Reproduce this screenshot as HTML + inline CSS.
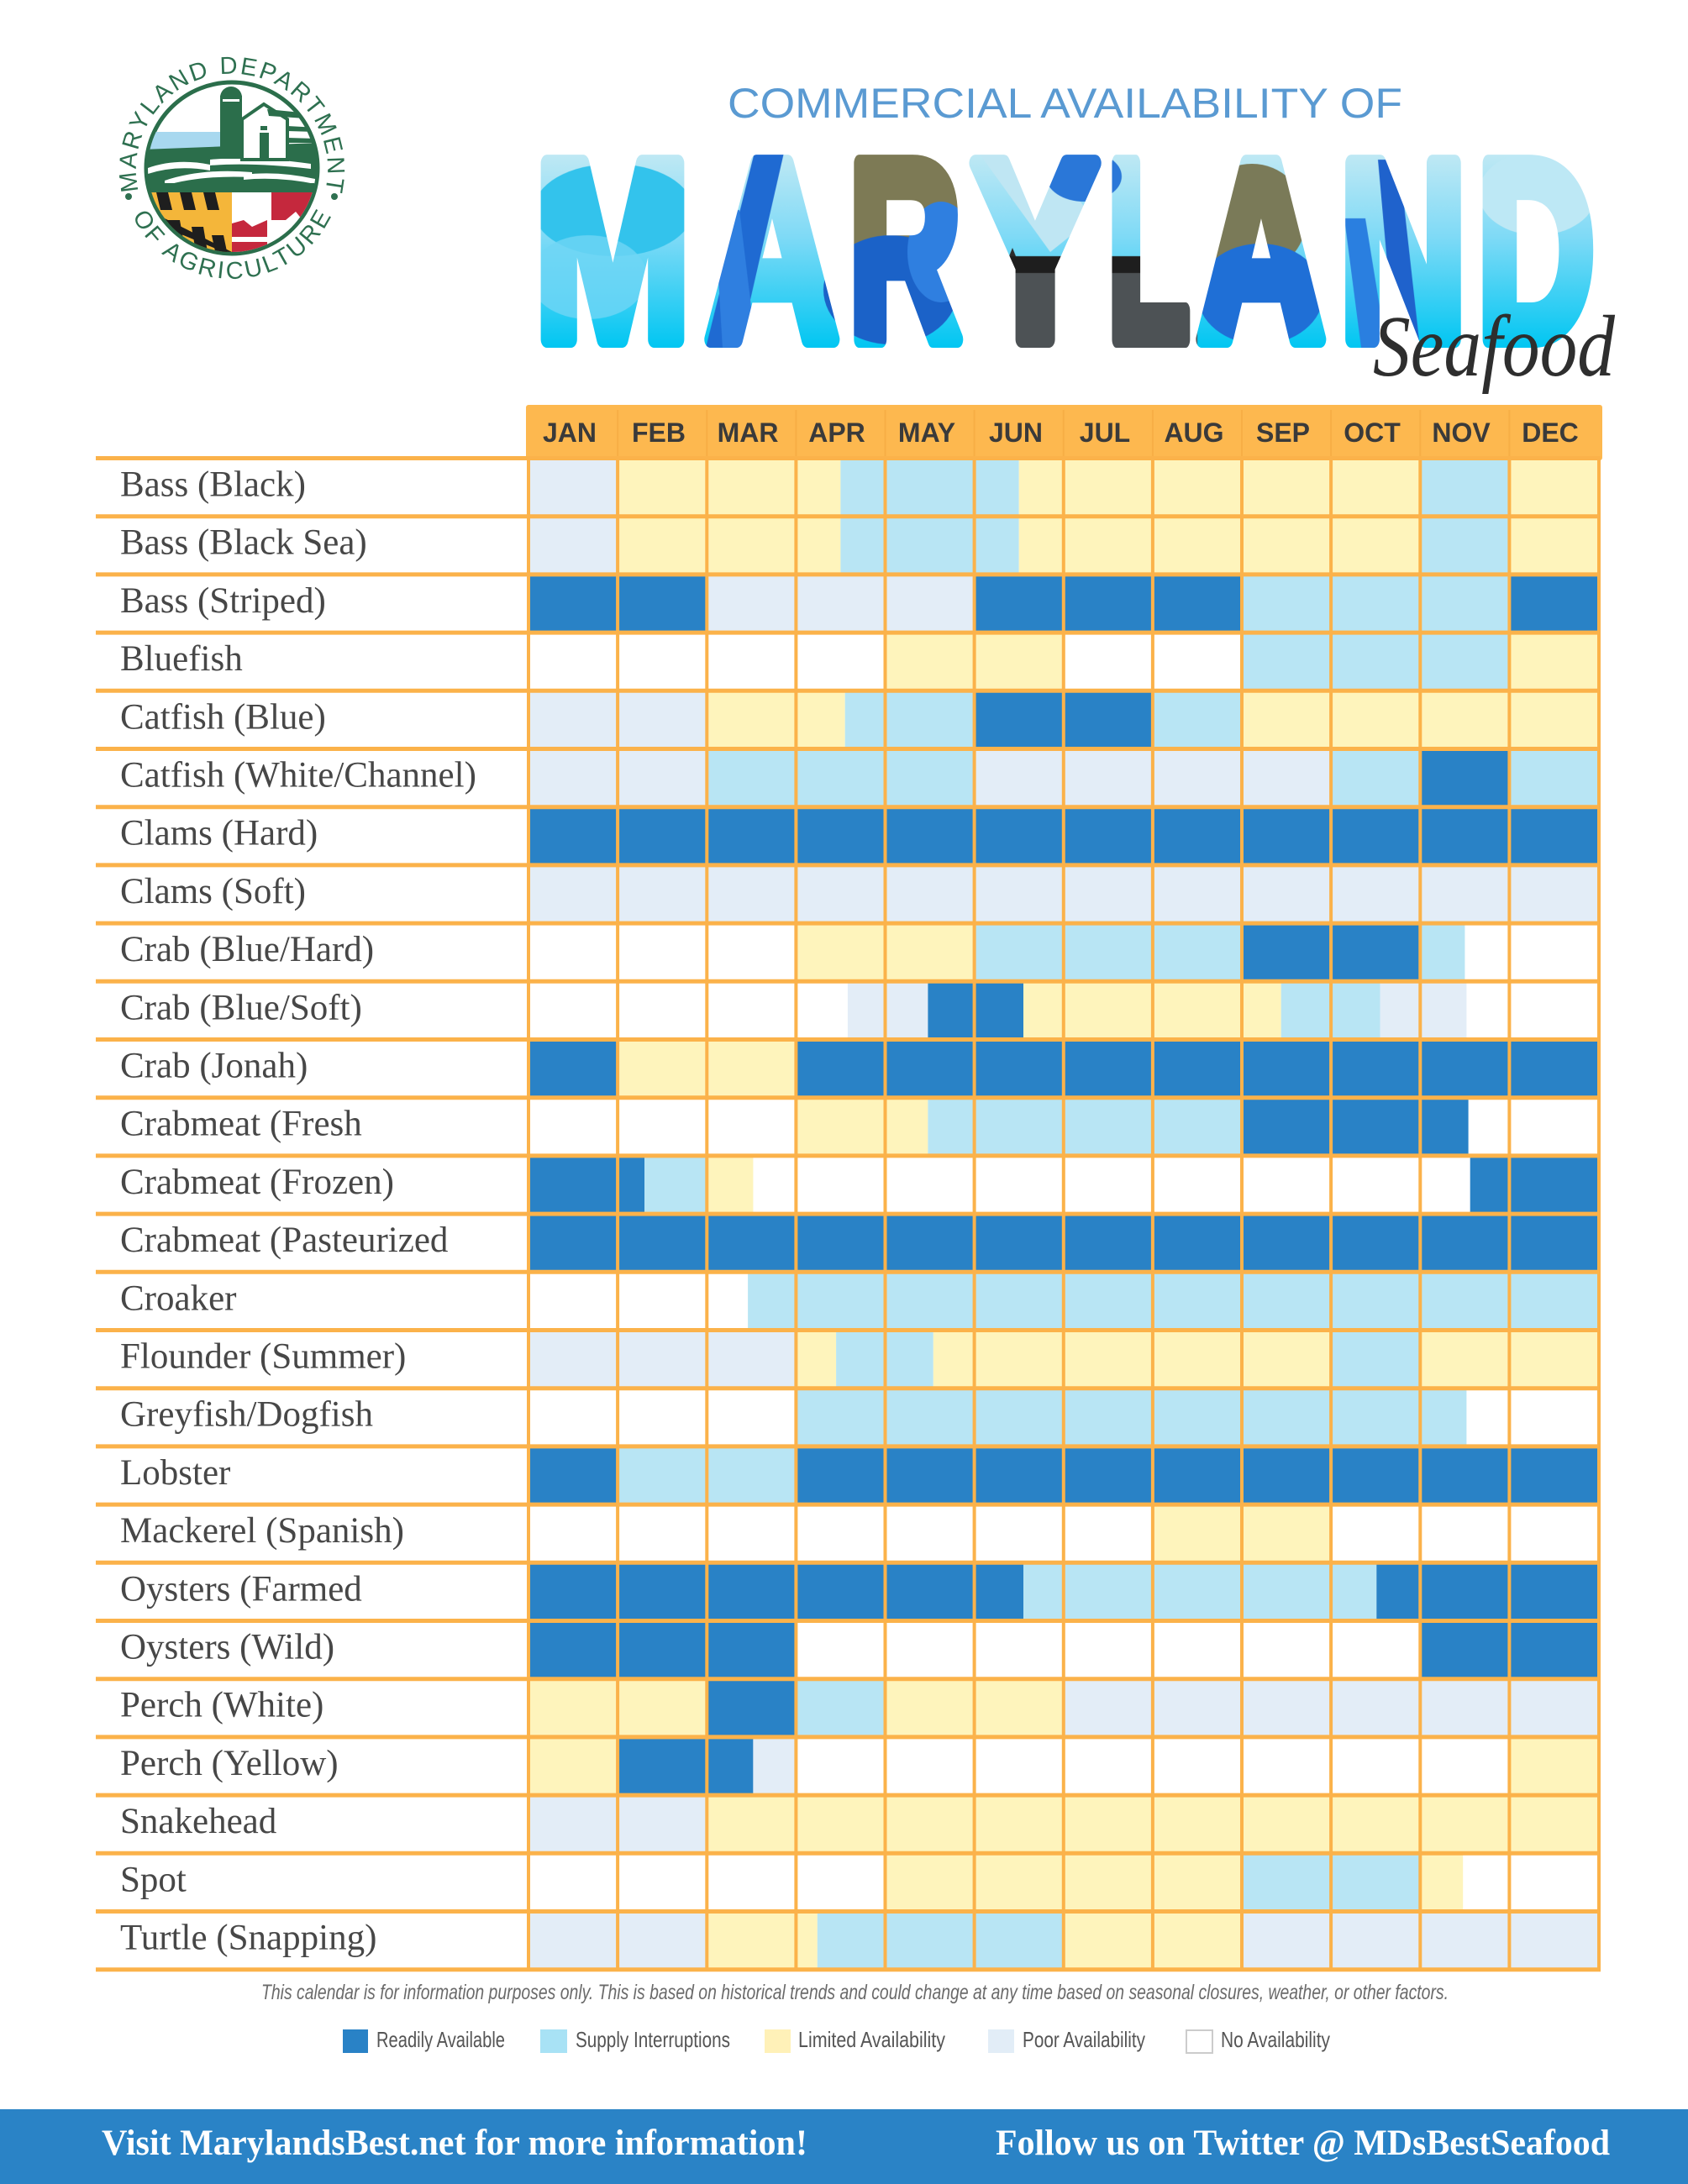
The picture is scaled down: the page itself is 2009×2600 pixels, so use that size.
<!DOCTYPE html>
<html>
<head>
<meta charset="utf-8">
<style>
html,body{margin:0;padding:0;background:#fff;}
body{width:2009px;height:2600px;overflow:hidden;}
svg{display:block;}
</style>
</head>
<body>
<svg xmlns="http://www.w3.org/2000/svg" width="2009" height="2600" viewBox="0 0 2009 2600">
<defs>
  <linearGradient id="mdgrad" gradientUnits="userSpaceOnUse" x1="0" y1="173" x2="0" y2="414">
    <stop offset="0" stop-color="#c6eaf4"/>
    <stop offset="0.45" stop-color="#7fdaf6"/>
    <stop offset="1" stop-color="#00c6f2"/>
  </linearGradient>
  <pattern id="mdfill" patternUnits="userSpaceOnUse" x="0" y="0" width="2009" height="600">
    <rect x="600" y="150" width="1330" height="290" fill="url(#mdgrad)"/>
    <ellipse cx="730" cy="250" rx="95" ry="55" fill="#33c3ec"/>
    <ellipse cx="700" cy="330" rx="70" ry="50" fill="#6fd6f5" opacity="0.8"/>
    <polygon points="900,173 935,173 880,414 840,414" fill="#1f6ad2"/>
    <polygon points="850,250 880,250 900,414 860,414" fill="#2f7fe0"/>
    <ellipse cx="1075" cy="245" rx="80" ry="85" fill="#7d7a55"/>
    <ellipse cx="1060" cy="345" rx="80" ry="65" fill="#1b62c8"/>
    <ellipse cx="1120" cy="300" rx="40" ry="60" fill="#2f7fe0"/>
    <polygon points="1160,175 1240,175 1300,260 1250,300" fill="#bfe6f3"/>
    <ellipse cx="1290" cy="210" rx="45" ry="30" fill="#2a77d8"/>
    <rect x="1160" y="320" width="265" height="95" fill="#4d5255"/>
    <path d="M1195 320 l10 -25 l10 25 z M1290 320 l10 -25 l10 25 z" fill="#2b2b2b"/>
    <rect x="1160" y="305" width="265" height="20" fill="#1e1e1e"/>
    <ellipse cx="1490" cy="260" rx="65" ry="65" fill="#7a7a58"/>
    <ellipse cx="1500" cy="350" rx="75" ry="60" fill="#1f6fd6"/>
    <polygon points="1640,190 1665,190 1690,414 1660,414" fill="#1f62cc"/>
    <polygon points="1600,260 1625,260 1650,414 1620,414" fill="#2a7fe0"/>
    <ellipse cx="1830" cy="230" rx="70" ry="50" fill="#bde8f5"/>
  </pattern>
  <clipPath id="inner"><circle cx="276" cy="200" r="100"/></clipPath>
  <path id="arcTop" d="M 168.7 240.3 A 114 114 0 1 1 383.3 240.3"/>
  <path id="arcBot" d="M 153.2 246.5 A 131 131 0 0 0 398.8 246.5"/>
</defs>

<!-- LOGO -->
<g>
  <circle cx="276" cy="200" r="102" fill="#fff" stroke="#2b6e4b" stroke-width="5"/>
  <g clip-path="url(#inner)">
    <rect x="170" y="157" width="100" height="22" fill="#a8d8ef"/>
    <path d="M170 178 L380 170 L380 228 L170 228 Z" fill="#2b6e4b"/>
    <path d="M176 200 Q210 188 250 196 L250 203 Q210 196 176 207 Z" fill="#fff"/>
    <path d="M196 215 Q240 200 300 205 L300 211 Q240 208 196 221 Z" fill="#fff"/>
    <path d="M250 190 Q300 185 370 195 L370 201 Q300 193 250 197 Z" fill="#fff"/>
    <path d="M290 208 Q330 203 375 213 L375 219 Q330 210 290 214 Z" fill="#fff"/>
    <rect x="262" y="114" width="26" height="75" fill="#2b6e4b"/>
    <circle cx="275" cy="116" r="13" fill="#2b6e4b"/>
    <rect x="265" y="118" width="20" height="3" fill="#fff"/>
    <path d="M288 190 L288 142 L314 124 L342 142 L342 190 Z" fill="#fff" stroke="#2b6e4b" stroke-width="4"/>
    <rect x="309" y="158" width="11" height="32" fill="#2b6e4b"/>
    <rect x="310" y="150" width="8" height="5" fill="#2b6e4b"/>
    <path d="M318 130 L378 136 L378 142 L320 138 Z M342 150 L378 152 L378 157 L342 156 Z M342 164 L378 165 L378 170 L342 170 Z" fill="#2b6e4b"/>
    <rect x="170" y="218" width="212" height="12" fill="#2b6e4b"/>
    <rect x="170" y="229" width="106" height="75" fill="#f4b63a"/>
    <path d="M186 229 L200 229 L205 250 L191 250 Z M214 229 L228 229 L233 250 L219 250 Z M242 229 L256 229 L261 250 L247 250 Z" fill="#1e1e1e"/>
    <path d="M176 250 L276 300 L276 304 L170 260 Z" fill="#1e1e1e"/>
    <path d="M200 262 L214 262 L219 290 L205 290 Z M228 270 L242 270 L247 300 L233 300 Z M252 280 L266 280 L271 304 L257 304 Z" fill="#1e1e1e"/>
    <rect x="276" y="229" width="106" height="75" fill="#fff"/>
    <path d="M323 229 L382 229 L382 262 L360 262 L352 252 L340 262 L323 262 Z" fill="#c5283d"/>
    <path d="M276 266 L290 262 L300 270 L318 262 L323 266 L323 304 L276 304 Z" fill="#c5283d"/>
    <path d="M276 282 L382 282 L382 288 L276 288 Z M318 262 L324 262 L324 304 L318 304 Z" fill="#fff"/>
  </g>
  <text font-family="Liberation Sans, sans-serif" font-size="29" fill="#2e7050"><textPath href="#arcTop" startOffset="50%" text-anchor="middle" textLength="410" lengthAdjust="spacing">MARYLAND DEPARTMENT</textPath></text>
  <text font-family="Liberation Sans, sans-serif" font-size="29" fill="#2e7050"><textPath href="#arcBot" startOffset="50%" text-anchor="middle" textLength="295" lengthAdjust="spacing">OF AGRICULTURE</textPath></text>
  <circle cx="153" cy="234" r="4" fill="#2e7050"/>
  <circle cx="398" cy="234" r="4" fill="#2e7050"/>
</g>

<!-- TITLE -->
<text x="866" y="140" font-family="Liberation Sans, sans-serif" font-size="50" fill="#5a9ad2" textLength="803" lengthAdjust="spacingAndGlyphs">COMMERCIAL AVAILABILITY OF</text>
<g font-family="Liberation Sans, sans-serif" font-weight="bold" font-size="305" fill="url(#mdfill)" stroke="url(#mdfill)" stroke-width="20" stroke-linejoin="round">
  <text x="636" y="404" textLength="186" lengthAdjust="spacingAndGlyphs">M</text>
  <text x="840" y="404" textLength="158" lengthAdjust="spacingAndGlyphs">A</text>
  <text x="1010" y="404" textLength="134" lengthAdjust="spacingAndGlyphs">R</text>
  <text x="1157" y="404" textLength="150" lengthAdjust="spacingAndGlyphs">Y</text>
  <text x="1318" y="404" textLength="98" lengthAdjust="spacingAndGlyphs">L</text>
  <text x="1425" y="404" textLength="152" lengthAdjust="spacingAndGlyphs">A</text>
  <text x="1594" y="404" textLength="152" lengthAdjust="spacingAndGlyphs">N</text>
  <text x="1758" y="404" textLength="140" lengthAdjust="spacingAndGlyphs">D</text>
</g>
<text x="1634" y="447" font-family="Liberation Serif, serif" font-style="italic" font-size="104" fill="#2e2e2e" textLength="288" lengthAdjust="spacingAndGlyphs">Seafood</text>

<!-- HEADER BAND -->
<rect x="626" y="482" width="1281" height="66" rx="3" fill="#fdb84f"/>
<g stroke="#f2a53c" stroke-width="2" opacity="0.5">
  <line x1="735.1" y1="488" x2="735.1" y2="545"/><line x1="841.3" y1="488" x2="841.3" y2="545"/>
  <line x1="947.4" y1="488" x2="947.4" y2="545"/><line x1="1053.5" y1="488" x2="1053.5" y2="545"/>
  <line x1="1159.6" y1="488" x2="1159.6" y2="545"/><line x1="1265.8" y1="488" x2="1265.8" y2="545"/>
  <line x1="1371.9" y1="488" x2="1371.9" y2="545"/><line x1="1478" y1="488" x2="1478" y2="545"/>
  <line x1="1584.1" y1="488" x2="1584.1" y2="545"/><line x1="1690.3" y1="488" x2="1690.3" y2="545"/>
  <line x1="1796.4" y1="488" x2="1796.4" y2="545"/>
</g>
<g font-family="Liberation Sans, sans-serif" font-weight="bold" font-size="32" fill="#3a3a3a" text-anchor="middle">
  <text x="678" y="526">JAN</text><text x="784" y="526">FEB</text><text x="890" y="526">MAR</text>
  <text x="996" y="526">APR</text><text x="1103" y="526">MAY</text><text x="1209" y="526">JUN</text>
  <text x="1315" y="526">JUL</text><text x="1421" y="526">AUG</text><text x="1527" y="526">SEP</text>
  <text x="1633" y="526">OCT</text><text x="1739" y="526">NOV</text><text x="1845" y="526">DEC</text>
</g>

<!-- CELLS -->
<g>
<g transform="translate(0,545.5)">
  <rect x="629" y="0" width="106.1" height="69.2" fill="#e3edf7"/>
  <rect x="735.1" y="0" width="265.3" height="69.2" fill="#fef4bc"/>
  <rect x="1000.4" y="0" width="212.3" height="69.2" fill="#b8e5f4"/>
  <rect x="1212.7" y="0" width="477.6" height="69.2" fill="#fef4bc"/>
  <rect x="1690.3" y="0" width="106.1" height="69.2" fill="#b8e5f4"/>
  <rect x="1796.4" y="0" width="106.1" height="69.2" fill="#fef4bc"/>
</g>
<g transform="translate(0,614.7)">
  <rect x="629" y="0" width="106.1" height="69.2" fill="#e3edf7"/>
  <rect x="735.1" y="0" width="265.3" height="69.2" fill="#fef4bc"/>
  <rect x="1000.4" y="0" width="212.3" height="69.2" fill="#b8e5f4"/>
  <rect x="1212.7" y="0" width="477.6" height="69.2" fill="#fef4bc"/>
  <rect x="1690.3" y="0" width="106.1" height="69.2" fill="#b8e5f4"/>
  <rect x="1796.4" y="0" width="106.1" height="69.2" fill="#fef4bc"/>
</g>
<g transform="translate(0,683.9)">
  <rect x="629" y="0" width="212.3" height="69.2" fill="#2982c6"/>
  <rect x="841.3" y="0" width="318.3" height="69.2" fill="#e3edf7"/>
  <rect x="1159.6" y="0" width="318.4" height="69.2" fill="#2982c6"/>
  <rect x="1478" y="0" width="318.4" height="69.2" fill="#b8e5f4"/>
  <rect x="1796.4" y="0" width="106.1" height="69.2" fill="#2982c6"/>
</g>
<g transform="translate(0,753.1)">
  <rect x="1053.5" y="0" width="212.3" height="69.2" fill="#fef4bc"/>
  <rect x="1478" y="0" width="318.4" height="69.2" fill="#b8e5f4"/>
  <rect x="1796.4" y="0" width="106.1" height="69.2" fill="#fef4bc"/>
</g>
<g transform="translate(0,822.3)">
  <rect x="629" y="0" width="212.3" height="69.2" fill="#e3edf7"/>
  <rect x="841.3" y="0" width="164.4" height="69.2" fill="#fef4bc"/>
  <rect x="1005.7" y="0" width="153.9" height="69.2" fill="#b8e5f4"/>
  <rect x="1159.6" y="0" width="212.3" height="69.2" fill="#2982c6"/>
  <rect x="1371.9" y="0" width="106.1" height="69.2" fill="#b8e5f4"/>
  <rect x="1478" y="0" width="424.5" height="69.2" fill="#fef4bc"/>
</g>
<g transform="translate(0,891.5)">
  <rect x="629" y="0" width="212.3" height="69.2" fill="#e3edf7"/>
  <rect x="841.3" y="0" width="318.3" height="69.2" fill="#b8e5f4"/>
  <rect x="1159.6" y="0" width="424.5" height="69.2" fill="#e3edf7"/>
  <rect x="1584.1" y="0" width="106.2" height="69.2" fill="#b8e5f4"/>
  <rect x="1690.3" y="0" width="106.1" height="69.2" fill="#2982c6"/>
  <rect x="1796.4" y="0" width="106.1" height="69.2" fill="#b8e5f4"/>
</g>
<g transform="translate(0,960.7)">
  <rect x="629" y="0" width="1273.5" height="69.2" fill="#2982c6"/>
</g>
<g transform="translate(0,1029.9)">
  <rect x="629" y="0" width="1273.5" height="69.2" fill="#e3edf7"/>
</g>
<g transform="translate(0,1099.1)">
  <rect x="947.4" y="0" width="212.2" height="69.2" fill="#fef4bc"/>
  <rect x="1159.6" y="0" width="318.4" height="69.2" fill="#b8e5f4"/>
  <rect x="1478" y="0" width="212.3" height="69.2" fill="#2982c6"/>
  <rect x="1690.3" y="0" width="53.1" height="69.2" fill="#b8e5f4"/>
</g>
<g transform="translate(0,1168.3)">
  <rect x="1008.9" y="0" width="95.5" height="69.2" fill="#e3edf7"/>
  <rect x="1104.4" y="0" width="113.6" height="69.2" fill="#2982c6"/>
  <rect x="1218" y="0" width="306.7" height="69.2" fill="#fef4bc"/>
  <rect x="1524.7" y="0" width="117.8" height="69.2" fill="#b8e5f4"/>
  <rect x="1642.5" y="0" width="102.9" height="69.2" fill="#e3edf7"/>
</g>
<g transform="translate(0,1237.5)">
  <rect x="629" y="0" width="106.1" height="69.2" fill="#2982c6"/>
  <rect x="735.1" y="0" width="212.3" height="69.2" fill="#fef4bc"/>
  <rect x="947.4" y="0" width="955.1" height="69.2" fill="#2982c6"/>
</g>
<g transform="translate(0,1306.7)">
  <rect x="947.4" y="0" width="157" height="69.2" fill="#fef4bc"/>
  <rect x="1104.4" y="0" width="373.6" height="69.2" fill="#b8e5f4"/>
  <rect x="1478" y="0" width="269.6" height="69.2" fill="#2982c6"/>
</g>
<g transform="translate(0,1375.9)">
  <rect x="629" y="0" width="138" height="69.2" fill="#2982c6"/>
  <rect x="767" y="0" width="74.3" height="69.2" fill="#b8e5f4"/>
  <rect x="841.3" y="0" width="55.1" height="69.2" fill="#fef4bc"/>
  <rect x="1749.7" y="0" width="152.8" height="69.2" fill="#2982c6"/>
</g>
<g transform="translate(0,1445.1)">
  <rect x="629" y="0" width="1273.5" height="69.2" fill="#2982c6"/>
</g>
<g transform="translate(0,1514.3)">
  <rect x="890.1" y="0" width="1012.4" height="69.2" fill="#b8e5f4"/>
</g>
<g transform="translate(0,1583.5)">
  <rect x="629" y="0" width="318.4" height="69.2" fill="#e3edf7"/>
  <rect x="947.4" y="0" width="47.7" height="69.2" fill="#fef4bc"/>
  <rect x="995.1" y="0" width="115.7" height="69.2" fill="#b8e5f4"/>
  <rect x="1110.8" y="0" width="473.3" height="69.2" fill="#fef4bc"/>
  <rect x="1584.1" y="0" width="106.2" height="69.2" fill="#b8e5f4"/>
  <rect x="1690.3" y="0" width="212.2" height="69.2" fill="#fef4bc"/>
</g>
<g transform="translate(0,1652.7)">
  <rect x="947.4" y="0" width="798" height="69.2" fill="#b8e5f4"/>
</g>
<g transform="translate(0,1721.9)">
  <rect x="629" y="0" width="106.1" height="69.2" fill="#2982c6"/>
  <rect x="735.1" y="0" width="212.3" height="69.2" fill="#b8e5f4"/>
  <rect x="947.4" y="0" width="955.1" height="69.2" fill="#2982c6"/>
</g>
<g transform="translate(0,1791.1)">
  <rect x="1371.9" y="0" width="212.2" height="69.2" fill="#fef4bc"/>
</g>
<g transform="translate(0,1860.3)">
  <rect x="629" y="0" width="589" height="69.2" fill="#2982c6"/>
  <rect x="1218" y="0" width="420.3" height="69.2" fill="#b8e5f4"/>
  <rect x="1638.3" y="0" width="264.2" height="69.2" fill="#2982c6"/>
</g>
<g transform="translate(0,1929.5)">
  <rect x="629" y="0" width="318.4" height="69.2" fill="#2982c6"/>
  <rect x="1690.3" y="0" width="212.2" height="69.2" fill="#2982c6"/>
</g>
<g transform="translate(0,1998.7)">
  <rect x="629" y="0" width="212.3" height="69.2" fill="#fef4bc"/>
  <rect x="841.3" y="0" width="106.1" height="69.2" fill="#2982c6"/>
  <rect x="947.4" y="0" width="106.1" height="69.2" fill="#b8e5f4"/>
  <rect x="1053.5" y="0" width="212.3" height="69.2" fill="#fef4bc"/>
  <rect x="1265.8" y="0" width="636.7" height="69.2" fill="#e3edf7"/>
</g>
<g transform="translate(0,2067.9)">
  <rect x="629" y="0" width="106.1" height="69.2" fill="#fef4bc"/>
  <rect x="735.1" y="0" width="161.3" height="69.2" fill="#2982c6"/>
  <rect x="896.4" y="0" width="51" height="69.2" fill="#e3edf7"/>
  <rect x="1796.4" y="0" width="106.1" height="69.2" fill="#fef4bc"/>
</g>
<g transform="translate(0,2137.1)">
  <rect x="629" y="0" width="212.3" height="69.2" fill="#e3edf7"/>
  <rect x="841.3" y="0" width="1061.2" height="69.2" fill="#fef4bc"/>
</g>
<g transform="translate(0,2206.3)">
  <rect x="1053.5" y="0" width="424.5" height="69.2" fill="#fef4bc"/>
  <rect x="1478" y="0" width="212.3" height="69.2" fill="#b8e5f4"/>
  <rect x="1690.3" y="0" width="50.9" height="69.2" fill="#fef4bc"/>
</g>
<g transform="translate(0,2275.5)">
  <rect x="629" y="0" width="212.3" height="69.2" fill="#e3edf7"/>
  <rect x="841.3" y="0" width="131.5" height="69.2" fill="#fef4bc"/>
  <rect x="972.8" y="0" width="293" height="69.2" fill="#b8e5f4"/>
  <rect x="1265.8" y="0" width="212.2" height="69.2" fill="#fef4bc"/>
  <rect x="1478" y="0" width="424.5" height="69.2" fill="#e3edf7"/>
</g>
</g>

<!-- GRID LINES -->
<g stroke="#fbb24a" stroke-width="4">
  <line x1="629" y1="545" x2="629" y2="2347"/>
  <line x1="735.1" y1="545" x2="735.1" y2="2347"/>
  <line x1="841.3" y1="545" x2="841.3" y2="2347"/>
  <line x1="947.4" y1="545" x2="947.4" y2="2347"/>
  <line x1="1053.5" y1="545" x2="1053.5" y2="2347"/>
  <line x1="1159.6" y1="545" x2="1159.6" y2="2347"/>
  <line x1="1265.8" y1="545" x2="1265.8" y2="2347"/>
  <line x1="1371.9" y1="545" x2="1371.9" y2="2347"/>
  <line x1="1478" y1="545" x2="1478" y2="2347"/>
  <line x1="1584.1" y1="545" x2="1584.1" y2="2347"/>
  <line x1="1690.3" y1="545" x2="1690.3" y2="2347"/>
  <line x1="1796.4" y1="545" x2="1796.4" y2="2347"/>
  <line x1="1903" y1="545" x2="1903" y2="2347"/>
</g>
<g stroke="#fbb24a" stroke-width="5">
  <line x1="114" y1="545.5" x2="1905" y2="545.5"/>
  <line x1="114" y1="614.7" x2="1905" y2="614.7"/>
  <line x1="114" y1="683.9" x2="1905" y2="683.9"/>
  <line x1="114" y1="753.1" x2="1905" y2="753.1"/>
  <line x1="114" y1="822.3" x2="1905" y2="822.3"/>
  <line x1="114" y1="891.5" x2="1905" y2="891.5"/>
  <line x1="114" y1="960.7" x2="1905" y2="960.7"/>
  <line x1="114" y1="1029.9" x2="1905" y2="1029.9"/>
  <line x1="114" y1="1099.1" x2="1905" y2="1099.1"/>
  <line x1="114" y1="1168.3" x2="1905" y2="1168.3"/>
  <line x1="114" y1="1237.5" x2="1905" y2="1237.5"/>
  <line x1="114" y1="1306.7" x2="1905" y2="1306.7"/>
  <line x1="114" y1="1375.9" x2="1905" y2="1375.9"/>
  <line x1="114" y1="1445.1" x2="1905" y2="1445.1"/>
  <line x1="114" y1="1514.3" x2="1905" y2="1514.3"/>
  <line x1="114" y1="1583.5" x2="1905" y2="1583.5"/>
  <line x1="114" y1="1652.7" x2="1905" y2="1652.7"/>
  <line x1="114" y1="1721.9" x2="1905" y2="1721.9"/>
  <line x1="114" y1="1791.1" x2="1905" y2="1791.1"/>
  <line x1="114" y1="1860.3" x2="1905" y2="1860.3"/>
  <line x1="114" y1="1929.5" x2="1905" y2="1929.5"/>
  <line x1="114" y1="1998.7" x2="1905" y2="1998.7"/>
  <line x1="114" y1="2067.9" x2="1905" y2="2067.9"/>
  <line x1="114" y1="2137.1" x2="1905" y2="2137.1"/>
  <line x1="114" y1="2206.3" x2="1905" y2="2206.3"/>
  <line x1="114" y1="2275.5" x2="1905" y2="2275.5"/>
  <line x1="114" y1="2344.7" x2="1905" y2="2344.7"/>
</g>

<!-- ROW LABELS -->
<g font-family="Liberation Serif, serif" font-size="43" fill="#474747">
  <text x="143" y="590.5">Bass (Black)</text>
  <text x="143" y="659.7">Bass (Black Sea)</text>
  <text x="143" y="728.9">Bass (Striped)</text>
  <text x="143" y="798.1">Bluefish</text>
  <text x="143" y="867.3">Catfish (Blue)</text>
  <text x="143" y="936.5">Catfish (White/Channel)</text>
  <text x="143" y="1005.7">Clams (Hard)</text>
  <text x="143" y="1074.9">Clams (Soft)</text>
  <text x="143" y="1144.1">Crab (Blue/Hard)</text>
  <text x="143" y="1213.3">Crab (Blue/Soft)</text>
  <text x="143" y="1282.5">Crab (Jonah)</text>
  <text x="143" y="1351.7">Crabmeat (Fresh</text>
  <text x="143" y="1420.9">Crabmeat (Frozen)</text>
  <text x="143" y="1490.1">Crabmeat (Pasteurized</text>
  <text x="143" y="1559.3">Croaker</text>
  <text x="143" y="1628.5">Flounder (Summer)</text>
  <text x="143" y="1697.7">Greyfish/Dogfish</text>
  <text x="143" y="1766.9">Lobster</text>
  <text x="143" y="1836.1">Mackerel (Spanish)</text>
  <text x="143" y="1905.3">Oysters (Farmed</text>
  <text x="143" y="1974.5">Oysters (Wild)</text>
  <text x="143" y="2043.7">Perch (White)</text>
  <text x="143" y="2112.9">Perch (Yellow)</text>
  <text x="143" y="2182.1">Snakehead</text>
  <text x="143" y="2251.3">Spot</text>
  <text x="143" y="2320.5">Turtle (Snapping)</text>
</g>

<!-- DISCLAIMER -->
<text x="311" y="2380" font-family="Liberation Sans, sans-serif" font-style="italic" font-size="25" fill="#6a6a6a" textLength="1413" lengthAdjust="spacingAndGlyphs">This calendar is for information purposes only. This is based on historical trends and could change at any time based on seasonal closures, weather, or other factors.</text>

<!-- LEGEND -->
<rect x="408" y="2416" width="30" height="28" fill="#2982c6"/>
<rect x="643" y="2416" width="32" height="28" fill="#a8e2f5"/>
<rect x="910" y="2416" width="31" height="28" fill="#fff1b8"/>
<rect x="1176" y="2416" width="31" height="28" fill="#e2edf7"/>
<rect x="1412" y="2417" width="31" height="27" fill="#fff" stroke="#cccccc" stroke-width="2"/>
<g font-family="Liberation Sans, sans-serif" font-size="26" fill="#555">
  <text x="448" y="2437" textLength="153" lengthAdjust="spacingAndGlyphs">Readily Available</text>
  <text x="685" y="2437" textLength="184" lengthAdjust="spacingAndGlyphs">Supply Interruptions</text>
  <text x="950" y="2437" textLength="175" lengthAdjust="spacingAndGlyphs">Limited Availability</text>
  <text x="1217" y="2437" textLength="146" lengthAdjust="spacingAndGlyphs">Poor Availability</text>
  <text x="1453" y="2437" textLength="130" lengthAdjust="spacingAndGlyphs">No Availability</text>
</g>

<!-- FOOTER -->
<rect x="0" y="2511" width="2009" height="89" fill="#2a83c6"/>
<g font-family="Liberation Serif, serif" font-weight="bold" font-size="43" fill="#ffffff">
  <text x="121" y="2565" textLength="840" lengthAdjust="spacingAndGlyphs">Visit MarylandsBest.net for more information!</text>
  <text x="1185" y="2565" textLength="731" lengthAdjust="spacingAndGlyphs">Follow us on Twitter @ MDsBestSeafood</text>
</g>
</svg>
</body>
</html>
